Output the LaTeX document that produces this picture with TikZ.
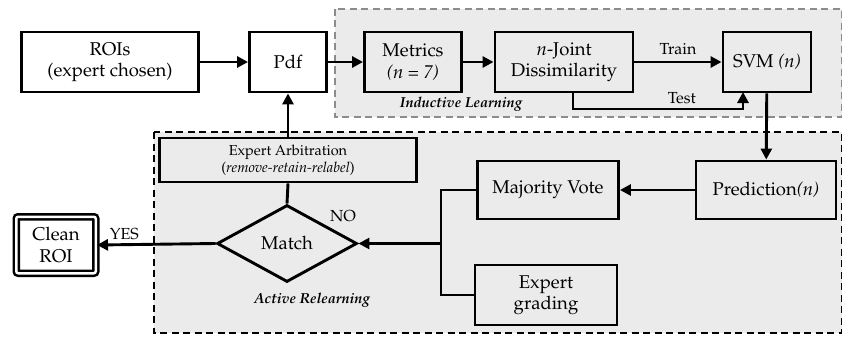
\documentclass[tikz,border=0pt]{standalone}
\usepackage[T1]{fontenc}
\usepackage{mathpazo}
\usetikzlibrary{arrows.meta,shapes.geometric}

\definecolor{panelgray}{HTML}{EBEBEB}
\definecolor{dashgray}{HTML}{8C8C8C}

\tikzset{
	box/.style={draw, line width=2.9pt, align=center, inner sep=0pt,
		font=\fontsize{18.5}{21.5}\selectfont},
	small/.style={font=\fontsize{14.5}{17}\selectfont},
	tag/.style={font=\fontsize{16}{18}\selectfont},
	link/.style={line width=2.9pt, -{Triangle[length=11pt,width=11pt]}},
	plain/.style={line width=2.9pt},
	panel/.style={fill=panelgray, line width=1.4pt, dash pattern=on 7pt off 4.5pt}
}

\begin{document}
\begin{tikzpicture}[x=1pt,y=-1pt]
	\useasboundingbox (0,0) rectangle (843,337);
	% shaded regions
	\draw [panel, draw=dashgray] (335,9) rectangle (841.5,117);
	\draw [panel, draw=black] (154,132) rectangle (841.5,333);

	% top row
	\node [box, minimum width=177pt, minimum height=60pt] (rois) at (110,62) {ROIs\\(expert chosen)};
	\node [box, minimum width=77pt, minimum height=60pt] (pdf) at (288,62) {Pdf};
	\node [box, minimum width=97pt, minimum height=60pt] (metrics) at (413,62) {Metrics\\\textit{(n = 7)}};
	\node [box, minimum width=138pt, minimum height=60pt] (joint) at (564,62) {$n$-Joint\\Dissimilarity};
	\node [box, minimum width=88pt, minimum height=60pt] (svm) at (767,62) {SVM \textit{(n)}};
	\node [font=\fontsize{14.5}{17}\selectfont\bfseries\itshape] (induct) at (461,104) {Inductive Learning};
	\coordinate (testout) at (573,92);
	\coordinate (testin) at (743,92);

	% bottom panel
	\node [box, small, minimum width=257pt, minimum height=44pt] (arbit) at (288,160) {Expert Arbitration\\(\textit{remove-retain-relabel})};
	\node [box, diamond, aspect=1.8, minimum width=140pt, minimum height=77pt] (match) at (287,243.5) {Match};
	\node [box, minimum width=141pt, minimum height=58pt] (vote) at (548,190) {Majority Vote};
	\node [box, minimum width=140pt, minimum height=58pt] (pred) at (766,190) {Prediction\textit{(n)}};
	\node [box, minimum width=142pt, minimum height=60pt] (grade) at (546,295) {Expert\\grading};
	\node [box, rounded corners=2pt, line width=2.5pt, double, double distance=2.5pt, minimum width=79.5pt, minimum height=56.5pt] (clean) at (56,245) {Clean\\ROI};
	\node [font=\fontsize{14.5}{17}\selectfont\bfseries\itshape] (active) at (312,300) {Active Relearning};
	\coordinate (fork) at (441,243.5);

	% connectors
	\draw [link] (rois) -- (pdf);
	\draw [link] (pdf) -- (metrics);
	\draw [link] (metrics) -- (joint);
	\draw [link] (joint) -- node [above, tag, yshift=3pt] {Train} (svm);
	\draw [link] (testout) -- ++(0,17) -| node [above, tag, pos=0.32] {Test} (testin);
	\draw [link] (svm) -- (pred);
	\draw [link] (pred) -- (vote);
	\draw [plain] (vote.west) -| (fork) |- (grade.west);
	\draw [link] (fork) -- (match.east);
	\draw [plain] (match.north) -- (arbit.south);
	\draw [link] (arbit) -- (pdf);
	\draw [link] (match.west) -- node [above, tag, pos=0.77] {YES} (clean.east);
	\node [tag] (no) at (343,216) {NO};
\end{tikzpicture}
\end{document}
